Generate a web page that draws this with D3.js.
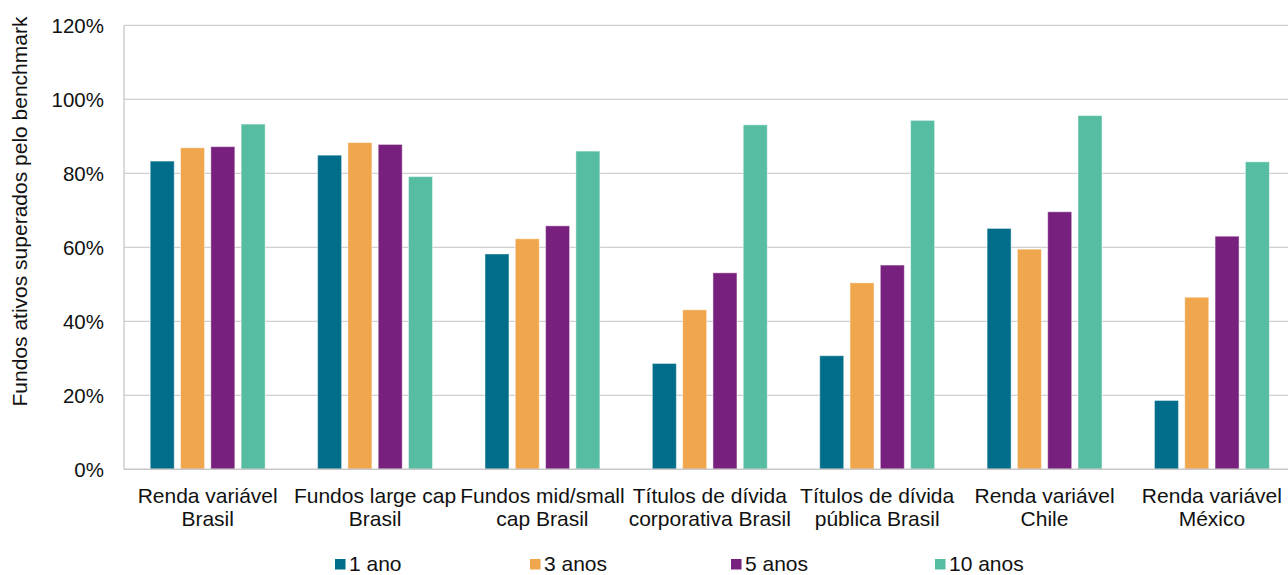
<!DOCTYPE html>
<html>
<head>
<meta charset="utf-8">
<script src="https://cdn.jsdelivr.net/npm/d3@7"></script>
<style>
  html, body { margin: 0; padding: 0; background: #fff; }
  svg { display: block; font-family: "Liberation Sans", Arial, sans-serif; }
</style>
</head>
<body>
<svg id="chart" width="1288" height="575"></svg>
<script>
const categories = [
  ["Renda variável", "Brasil"],
  ["Fundos large cap", "Brasil"],
  ["Fundos mid/small", "cap Brasil"],
  ["Títulos de dívida", "corporativa Brasil"],
  ["Títulos de dívida", "pública Brasil"],
  ["Renda variável", "Chile"],
  ["Renda variável", "México"]
];
const seriesNames = ["1 ano", "3 anos", "5 anos", "10 anos"];
const ano1  = [83.3, 84.9, 58.2, 28.6, 30.7, 65.1, 18.6];
const anos3 = [86.9, 88.3, 62.3, 43.1, 50.4, 59.5, 46.5];
const anos5 = [87.2, 87.8, 65.8, 53.1, 55.2, 69.6, 63.0];
const anos10 = [93.3, 79.1, 86.0, 93.1, 94.3, 95.6, 83.1];
const yTicks = [0, 20, 40, 60, 80, 100, 120];
const colors = ["#006E8A", "#F0A64C", "#78207D", "#56BCA2"];
const yTitle = "Fundos ativos superados pelo benchmark";

const seriesValues = [ano1, anos3, anos5, anos10];
const svg = d3.select("#chart");
const plotL = 124, plotR = 1295.6, plotT = 25.3, plotB = 469.3;

const catKeys = categories.map(c => c.join(" "));
const x0 = d3.scaleBand().domain(catKeys).range([plotL, plotR]).padding(0);
const bw = x0.bandwidth();
const x1 = d3.scaleBand().domain(seriesNames)
  .range([bw / 2 - 57.45, bw / 2 + 57.45]).paddingInner(0.208).paddingOuter(0);
const y = d3.scaleLinear().domain([0, 120]).range([plotB, plotT]);

// gridlines
svg.append("g").selectAll("line").data(yTicks.filter(t => t > 0)).join("line")
  .attr("x1", plotL).attr("x2", 1288)
  .attr("y1", d => y(d)).attr("y2", d => y(d))
  .attr("stroke", "#d0d0d0").attr("stroke-width", 1.3);

// y tick labels
svg.append("g").selectAll("text").data(yTicks).join("text")
  .attr("x", 104).attr("y", d => y(d)).attr("dy", "0.36em")
  .attr("text-anchor", "end").attr("font-size", 20.5).attr("fill", "#111")
  .text(d => d + "%");

// bars
const groups = svg.append("g").selectAll("g").data(catKeys).join("g")
  .attr("transform", d => `translate(${x0(d)},0)`);
groups.selectAll("rect")
  .data((d, i) => seriesNames.map((s, j) => ({ s, j, v: seriesValues[j][i] })))
  .join("rect")
  .attr("x", d => x1(d.s)).attr("width", x1.bandwidth())
  .attr("y", d => y(d.v)).attr("height", d => y(0) - y(d.v))
  .attr("fill", d => colors[d.j])
  .attr("stroke", "#ffffff").attr("stroke-opacity", 0.45).attr("stroke-width", 1);

// axes lines
svg.append("line").attr("x1", plotL).attr("x2", plotL).attr("y1", plotT).attr("y2", plotB)
  .attr("stroke", "#c8c8c8").attr("stroke-width", 1.3);
svg.append("line").attr("x1", plotL).attr("x2", 1288).attr("y1", plotB).attr("y2", plotB)
  .attr("stroke", "#c8c8c8").attr("stroke-width", 1.5);

// category labels
const catLab = svg.append("g").selectAll("text").data(categories).join("text")
  .attr("text-anchor", "middle").attr("font-size", 21).attr("fill", "#111");
catLab.each(function (d, i) {
  const cx = x0(catKeys[i]) + bw / 2;
  d3.select(this).selectAll("tspan").data(d).join("tspan")
    .attr("x", cx).attr("y", (t, k) => 503 + k * 22.5).text(t => t);
});

// y axis title
svg.append("text")
  .attr("transform", "translate(26.5,211.5) rotate(-90)")
  .attr("text-anchor", "middle").attr("font-size", 21).attr("fill", "#111")
  .text(yTitle);

// legend
const legendX = [335, 530, 731, 935];
const leg = svg.append("g").selectAll("g").data(seriesNames).join("g")
  .attr("transform", (d, i) => `translate(${legendX[i]},559)`);
leg.append("rect").attr("width", 10.5).attr("height", 10.5)
  .attr("fill", (d, i) => colors[i]);
leg.append("text").attr("x", 14).attr("y", 11.5)
  .attr("font-size", 21).attr("fill", "#111").text(d => d);
</script>
</body>
</html>
